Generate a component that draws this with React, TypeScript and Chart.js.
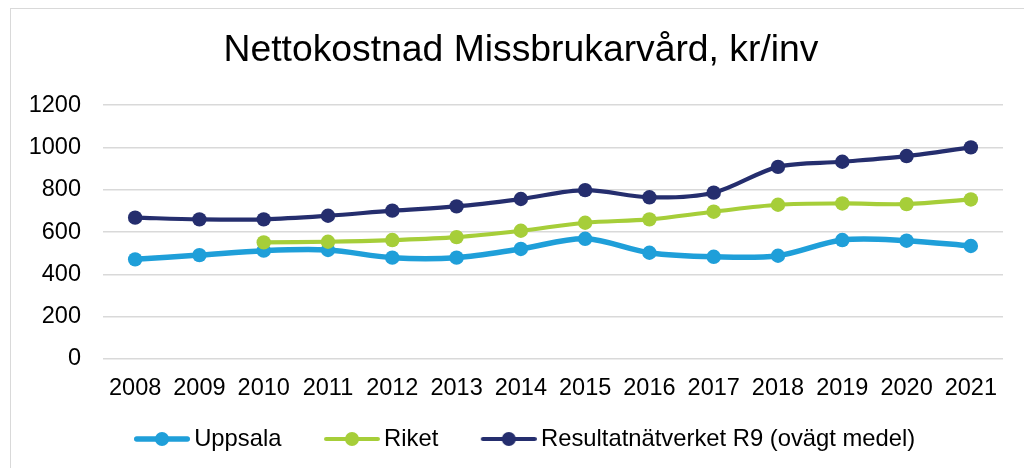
import React, { useEffect, useRef } from "react";
import { Chart, registerables } from "chart.js";

Chart.register(...registerables);

const years = ["2008", "2009", "2010", "2011", "2012", "2013", "2014", "2015", "2016", "2017", "2018", "2019", "2020", "2021"];
const uppsala = [471, 491, 512, 515, 479, 479, 520, 568, 502, 483, 488, 562, 559, 534];
const riket = [null, null, 551, 554, 562, 576, 606, 644, 660, 696, 729, 735, 732, 754];
const r9 = [668, 660, 660, 677, 701, 721, 756, 798, 764, 786, 908, 932, 959, 1000];
const seriesNames = ["Uppsala", "Riket", "Resultatnätverket R9 (ovägt medel)"];
const seriesColors = ["#1f9fd9", "#a6ce39", "#252e6e"];
const seriesLineWidths = [5.5, 4.2, 4.2];
const titleText = "Nettokostnad Missbrukarvård, kr/inv";

const FONT = "'Liberation Sans', Arial, sans-serif";
const FS = 23.5;
const LFS = 23.8;
const IMG_W = 85;
const LINE_LEN = 56;

function legendImage(color: string, lw: number): HTMLCanvasElement {
  const c = document.createElement("canvas");
  c.width = IMG_W;
  c.height = 16;
  const ctx = c.getContext("2d")!;
  const x0 = IMG_W - LINE_LEN;
  ctx.strokeStyle = color;
  ctx.lineWidth = lw;
  ctx.lineCap = "round";
  ctx.beginPath();
  ctx.moveTo(x0 + lw / 2, 8);
  ctx.lineTo(IMG_W - lw / 2, 8);
  ctx.stroke();
  ctx.fillStyle = color;
  ctx.beginPath();
  ctx.arc(x0 + LINE_LEN / 2, 8, 7, 0, Math.PI * 2);
  ctx.fill();
  return c;
}

const titleShift = {
  id: "titleShift",
  afterLayout(chart: any) {
    const t = chart.titleBlock;
    if (t) {
      t.left += 7;
      t.right += 7;
    }
  },
};

export default function App() {
  const ref = useRef<HTMLCanvasElement>(null);
  useEffect(() => {
    if (!ref.current) return;
    const allData = [uppsala, riket, r9];
    const images = seriesColors.map((c, i) => legendImage(c, seriesLineWidths[i]));
    const chart = new Chart(ref.current, {
      type: "line",
      data: {
        labels: years,
        datasets: allData.map((d, i) => ({
          label: seriesNames[i],
          data: d,
          borderColor: seriesColors[i],
          backgroundColor: seriesColors[i],
          borderWidth: seriesLineWidths[i],
          pointRadius: 7.2,
          pointBorderWidth: 0,
          pointBackgroundColor: seriesColors[i],
          tension: 0.33,
          fill: false,
          order: 2 - i,
        })),
      },
      plugins: [titleShift],
      options: {
        animation: false,
        responsive: false,
        devicePixelRatio: 1,
        layout: { padding: { left: 25, right: 21, top: 0, bottom: 7.1 } },
        plugins: {
          tooltip: { enabled: false },
          title: {
            display: true,
            text: titleText,
            color: "#000",
            font: { family: FONT, size: 37.3, weight: "normal" },
            padding: { top: 28, bottom: 32.3 },
          },
          legend: {
            display: true,
            position: "bottom",
            labels: {
              usePointStyle: true,
              pointStyleWidth: 69.5,
              boxHeight: LFS,
              padding: 21.25,
              color: "#000",
              font: { family: FONT, size: LFS },
              generateLabels: () =>
                seriesNames.map((n, i) => ({
                  text: n,
                  fillStyle: seriesColors[i],
                  strokeStyle: seriesColors[i],
                  lineWidth: 0,
                  pointStyle: images[i],
                  hidden: false,
                  datasetIndex: i,
                  fontColor: "#000",
                })),
            },
          },
        },
        scales: {
          x: {
            offset: true,
            grid: { display: false, drawTicks: false },
            border: { display: false },
            ticks: { color: "#000", font: { family: FONT, size: FS }, padding: 15, maxRotation: 0, autoSkip: false },
            afterFit: (s: any) => {
              s.height = 46.85;
            },
          },
          y: {
            min: 0,
            max: 1200,
            grid: { color: "#d9d9d9", lineWidth: 1.5, drawTicks: false },
            border: { display: false },
            ticks: {
              stepSize: 200,
              color: "#000",
              font: { family: FONT, size: FS },
              padding: 22,
              callback: (v: any) => String(v),
            },
            afterFit: (s: any) => {
              s.width = 78;
            },
          },
        },
      },
    });
    return () => chart.destroy();
  }, []);
  return (
    <div style={{ position: "absolute", left: 0, top: 0, width: 1024, height: 468, background: "#fff", overflow: "hidden" }}>
      <div
        style={{
          position: "absolute",
          left: 10,
          top: 8,
          width: 1100,
          height: 600,
          border: "1.5px solid #d9d9d9",
        }}
      />
      <canvas ref={ref} width={1024} height={468} style={{ position: "absolute", left: 0, top: 0, width: 1024, height: 468 }} />
    </div>
  );
}
